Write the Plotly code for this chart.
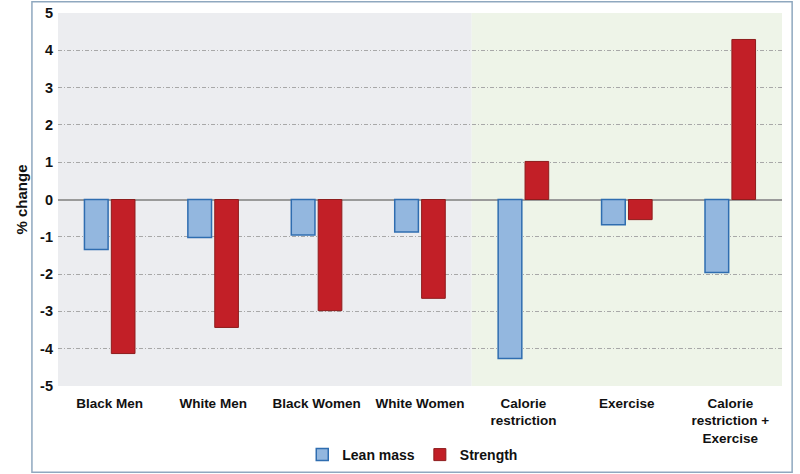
import plotly.graph_objects as go

# data
categories = ["Black Men", "White Men", "Black Women", "White Women",
              "Calorie<br>restriction", "Exercise", "Calorie<br>restriction +<br>Exercise"]
lean_mass = [-1.34, -1.02, -0.95, -0.87, -4.26, -0.68, -1.96]
strength = [-4.13, -3.43, -2.98, -2.65, 1.02, -0.54, 4.29]
y_ticks = [5, 4, 3, 2, 1, 0, -1, -2, -3, -4, -5]

fig = go.Figure()
fig.add_trace(go.Bar(
    x=categories, y=lean_mass, name="Lean mass",
    marker=dict(color="#93b7df", line=dict(color="#2f6db0", width=1.5)),
))
fig.add_trace(go.Bar(
    x=categories, y=strength, name="Strength",
    marker=dict(color="#c21f27", line=dict(color="#8e1c1c", width=1)),
))

# shaded backgrounds behind the two groups of categories
fig.add_shape(type="rect", xref="x", yref="paper", x0=-0.5, x1=3.5, y0=0, y1=1,
              fillcolor="#ecedf0", line_width=0, layer="below")
fig.add_shape(type="rect", xref="x", yref="paper", x0=3.5, x1=6.5, y0=0, y1=1,
              fillcolor="#eef4e8", line_width=0, layer="below")
# outer frame
fig.add_shape(type="rect", xref="paper", yref="paper",
              x0=-0.036, x1=1.014, y0=-0.231, y1=1.03,
              line=dict(color="#8fa8bf", width=1.5), fillcolor="rgba(0,0,0,0)")

font = "Liberation Sans, Arial, sans-serif"
fig.update_layout(
    width=800, height=474,
    margin=dict(l=58, r=18, t=13, b=88, autoexpand=False),
    paper_bgcolor="white", plot_bgcolor="white",
    barmode="group", bargap=0.48, bargroupgap=0.12,
    font=dict(family=font, size=13, color="#111111"),
    showlegend=True,
    legend=dict(orientation="h", x=0.49, xanchor="center", y=-0.185, yanchor="middle",
                font=dict(size=14, color="#111111", weight="bold"), itemwidth=30,
                traceorder="normal"),
)
fig.update_xaxes(
    tickfont=dict(size=13.5, family=font, weight="bold"),
    showgrid=False, showline=False, ticks="", automargin=False,
    ticklabelstandoff=7,
)
fig.update_yaxes(
    range=[-5, 5], tickvals=y_ticks, ticktext=[str(v) for v in y_ticks],
    tickfont=dict(size=14.5, family=font, weight="bold"),
    showgrid=True, gridcolor="#a8a8a8", griddash="4px,2px,1px,2px", gridwidth=1,
    zeroline=True, zerolinecolor="#9a9a9a", zerolinewidth=1.5,
    showline=False, ticks="", automargin=False, ticklabelstandoff=4,
    title=dict(text="% change", font=dict(size=15, family=font, weight="bold"), standoff=8),
)

# page has a default 8px body margin; drop it so the figure sits at the window corner
fig.write_html("out.html", config={"displayModeBar": False},
               post_script="document.body.style.margin='0';")
